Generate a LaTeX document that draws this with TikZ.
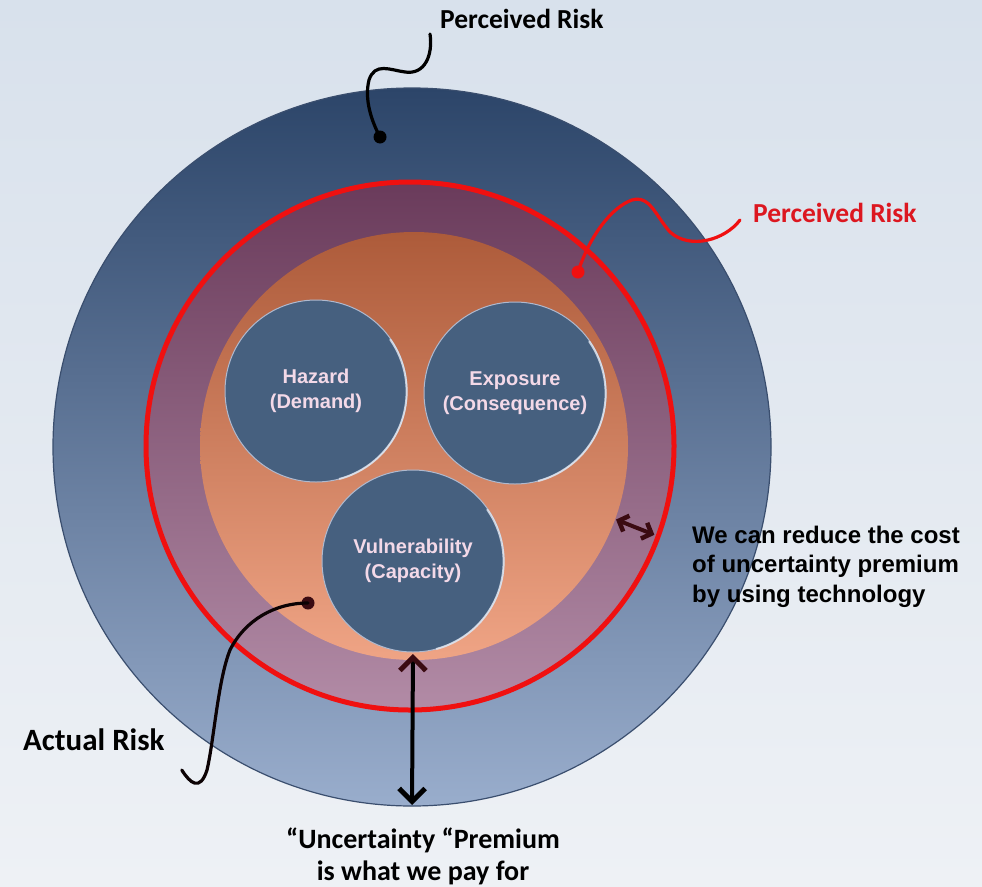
\documentclass[tikz,border=0pt]{standalone}
\usepackage{fontspec}
\setmainfont{Liberation Sans}
\newfontfamily\calib{Carlito}
\usetikzlibrary{arrows.meta}

\definecolor{bgtop}{HTML}{D8E1EC}
\definecolor{bgbot}{HTML}{EEF1F5}
\definecolor{outertop}{HTML}{2C4569}
\definecolor{outerbot}{HTML}{99ADCC}
\definecolor{outeredge}{HTML}{3A4E6E}
\definecolor{bandtop}{HTML}{6A3B5B}
\definecolor{bandbot}{HTML}{B28BA6}
\definecolor{coretop}{HTML}{AD5B3A}
\definecolor{corebot}{HTML}{EFA485}
\definecolor{factorfill}{HTML}{46607F}
\definecolor{factorrim}{HTML}{AFB9CE}
\definecolor{factorgloss}{HTML}{E4E9F2}
\definecolor{factortext}{HTML}{F3D9E8}
\definecolor{redline}{HTML}{F01010}
\definecolor{redtext}{HTML}{DC1720}
\definecolor{maroon}{HTML}{3B0B12}

\begin{document}
\begin{tikzpicture}[x=1pt,y=-1pt,
  ring/.style={circle, inner sep=0pt, outer sep=0pt},
  factor/.style={ring, minimum size=182pt, fill=factorfill, draw=factorrim,
    line width=1pt, text=factortext, align=center,
    font=\bfseries\fontsize{20}{24.5}\selectfont},
  gloss/.style={draw=factorgloss, line width=2pt, line cap=round, opacity=0.8},
  callout/.style={inner sep=0pt, font=\calib\bfseries\fontsize{27.5}{33}\selectfont},
  note/.style={inner sep=0pt, align=left, font=\bfseries\fontsize{24}{29.5}\selectfont},
  wiggle/.style={line width=3.2pt, line cap=round},
  dotmark/.style={circle, inner sep=0pt, minimum size=13pt, fill=#1},
  span/.style={line width=4pt,
    {Straight Barb[length=13pt,width=26pt,line width=5pt,color=maroon]}-{Straight Barb[length=13pt,width=26pt,line width=5pt]}},
  gap/.style={line width=4pt, color=maroon,
    {Straight Barb[length=8pt,width=17pt,line width=4.5pt]}-{Straight Barb[length=8pt,width=17pt,line width=4.5pt]}}
]
% backdrop
\shade[top color=bgtop, bottom color=bgbot] (0,0) rectangle (982,886);
\useasboundingbox (0,0) rectangle (982,886);

% nested discs
\node[ring, minimum size=718pt, top color=outertop, bottom color=outerbot,
      draw=outeredge, line width=1.2pt] (outer) at (412,447) {};
\node[ring, minimum size=528pt, top color=bandtop, bottom color=bandbot,
      draw=redline, line width=5pt] (band) at (410,446) {};
\node[ring, minimum size=428pt, top color=coretop, bottom color=corebot] (core) at (414,446) {};

% the three factors
\node[factor] (hazard) at (316,391) {Hazard\\(Demand)};
\node[factor] (exposure) at (515,393) {Exposure\\(Consequence)};
\node[factor] (vul) at (413,561) {Vulnerability\\(Capacity)};

% light bevel on the right-hand rim of each factor
\foreach \f in {hazard,exposure,vul}
  \draw[gloss] (\f.-75) arc[start angle=75, end angle=-35, radius=90.5];

% labels
\node[callout, anchor=base west] (ptop) at (440,28) {Perceived Risk};
\node[callout, anchor=base west, text=redtext] (pred) at (753,222) {Perceived Risk};
\node[inner sep=0pt, anchor=base west, font=\calib\bfseries\fontsize{31}{36}\selectfont] (actual) at (23,750) {Actual Risk};
\node[note, anchor=base west] (tech) at (692,602) {We can reduce the cost\\of uncertainty premium\\by using technology};
\node[inner sep=0pt, anchor=base, align=center, font=\calib\bfseries\fontsize{28}{32}\selectfont] (premium) at (423,880) {“Uncertainty “Premium\\is what we pay for};

% pointer dots
\node[dotmark=black] (pdot) at (380,137) {};
\node[dotmark=redline] (rdot) at (578,272) {};
\node[dotmark=maroon] (adot) at (308,603) {};

% pointer curves
\draw[wiggle, black] ([xshift=-10pt,yshift=-6pt]ptop.base west)
  .. controls (433,55) and (425,75) .. (405,72)
  .. controls (390,70) and (375,62) .. (369,80)
  .. controls (364,100) and (372,122) .. (pdot.center);
\draw[wiggle, redline] ([xshift=-13pt,yshift=2pt]pred.base west)
  .. controls (725,240) and (690,250) .. (670,232)
  .. controls (655,215) and (650,195) .. (632,200)
  .. controls (612,207) and (590,235) .. (rdot.center);
\draw[wiggle, black!80!maroon] ([xshift=17pt,yshift=-20pt]actual.base east)
  .. controls (190,783) and (200,792) .. (207,770)
  .. controls (214,740) and (218,680) .. (230,650)
  .. controls (245,620) and (275,603) .. (adot.center);

% margins
\draw[span, shorten <=2pt, shorten >=1pt] (vul.south) -- (outer.south);
\draw[gap, shorten <=1pt, shorten >=4pt] (core.-20) -- (band.-20);
\end{tikzpicture}
\end{document}
